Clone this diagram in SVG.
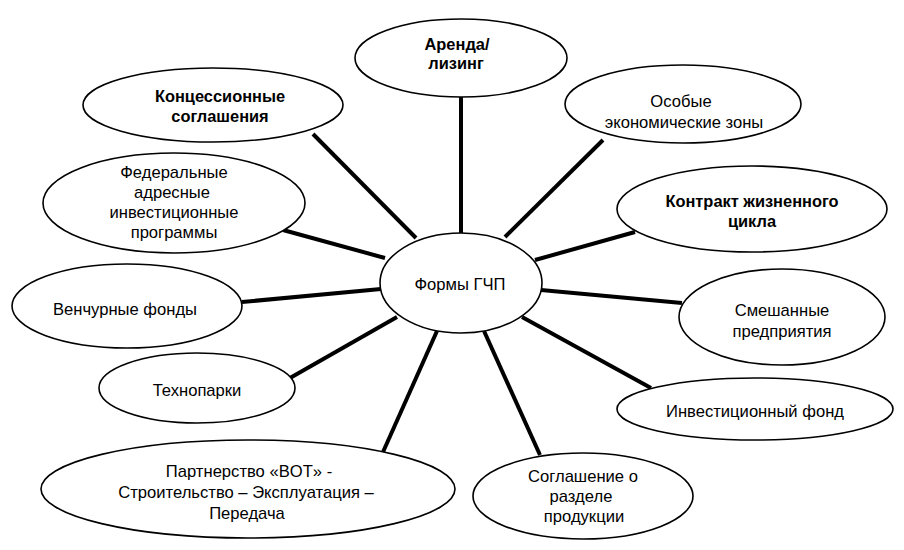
<svg xmlns="http://www.w3.org/2000/svg" width="904" height="550" viewBox="0 0 904 550">
<style>
.bg{fill:#fff}
.n ellipse{fill:#fff;stroke:#000;stroke-width:1.6}
.c line{stroke:#000;stroke-width:4;stroke-linecap:butt}
text{font-family:"Liberation Sans",Arial,sans-serif;font-size:16.6px;fill:#000;text-anchor:middle}
.b{font-weight:bold;font-size:16.4px}
</style>
<rect class="bg" x="0" y="0" width="904" height="550"/>
<g id="connectors" class="c">
<line x1="461" y1="97" x2="461" y2="234"/>
<line x1="313" y1="134" x2="416" y2="238"/>
<line x1="283" y1="230" x2="385" y2="258"/>
<line x1="242" y1="302" x2="381" y2="289"/>
<line x1="290" y1="378" x2="397" y2="317"/>
<line x1="383" y1="452" x2="437" y2="331"/>
<line x1="540" y1="455" x2="484" y2="331"/>
<line x1="651" y1="388" x2="522" y2="317"/>
<line x1="682" y1="303" x2="541" y2="290"/>
<line x1="635" y1="232" x2="535" y2="260"/>
<line x1="603" y1="140" x2="505" y2="237"/>
</g>
<g id="center" class="n">
<ellipse cx="461" cy="283" rx="81" ry="50"/>
<text x="460" y="290">Формы ГЧП</text>
</g>
<g id="arenda" class="n">
<ellipse cx="461" cy="58" rx="106" ry="39"/>
<text class="b" x="457" y="50">Аренда/</text>
<text class="b" x="456" y="69">лизинг</text>
</g>
<g id="koncess" class="n">
<ellipse cx="213" cy="105" rx="130" ry="37"/>
<text class="b" x="220" y="102">Концессионные</text>
<text class="b" x="220" y="122">соглашения</text>
</g>
<g id="federal" class="n">
<ellipse cx="174" cy="203" rx="131" ry="50"/>
<text x="174" y="178">Федеральные</text>
<text x="172" y="198">адресные</text>
<text x="174" y="218">инвестиционные</text>
<text x="174" y="238">программы</text>
</g>
<g id="venture" class="n">
<ellipse cx="127" cy="306" rx="115" ry="42"/>
<text x="125" y="315">Венчурные фонды</text>
</g>
<g id="technopark" class="n">
<ellipse cx="197" cy="388" rx="98" ry="35"/>
<text x="197" y="396">Технопарки</text>
</g>
<g id="bot" class="n">
<ellipse cx="248" cy="489" rx="207" ry="49"/>
<text x="249" y="477">Партнерство «BOT» -</text>
<text x="246" y="498">Строительство – Эксплуатация –</text>
<text x="247" y="519">Передача</text>
</g>
<g id="srp" class="n">
<ellipse cx="583" cy="496" rx="110" ry="43"/>
<text x="583" y="482">Соглашение о</text>
<text x="581" y="502">разделе</text>
<text x="584" y="522">продукции</text>
</g>
<g id="invfund" class="n">
<ellipse cx="755" cy="409" rx="138" ry="31"/>
<text x="755" y="417">Инвестиционный фонд</text>
</g>
<g id="mixed" class="n">
<ellipse cx="782" cy="317" rx="103" ry="48"/>
<text x="782" y="316">Смешанные</text>
<text x="782" y="337">предприятия</text>
</g>
<g id="lifecycle" class="n">
<ellipse cx="752" cy="209" rx="135" ry="43"/>
<text class="b" x="752" y="207">Контракт жизненного</text>
<text class="b" x="752" y="227">цикла</text>
</g>
<g id="oez" class="n">
<ellipse cx="683" cy="104" rx="118" ry="39"/>
<text x="681" y="107">Особые</text>
<text x="684" y="128">экономические зоны</text>
</g>
</svg>
